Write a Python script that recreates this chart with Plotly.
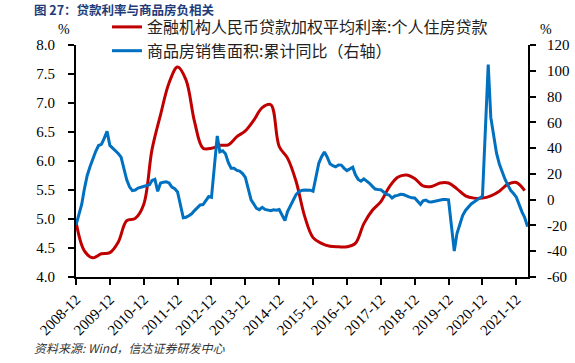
import plotly.graph_objects as go

# ---------------- data ----------------
# Quarterly: 金融机构人民币贷款加权平均利率:个人住房贷款 (%)
red_dates = ["2008-12-01"] + [f"{y}-{m:02d}-01" for y in range(2009, 2022) for m in (3, 6, 9, 12)] + ["2022-03-01"]
red_vals = [
    4.95,
    4.45, 4.33, 4.40, 4.42,
    4.60, 4.97, 5.01, 5.25,
    6.20, 6.80, 7.35, 7.62,
    7.40, 6.68, 6.22, 6.22,
    6.27, 6.28, 6.42, 6.52,
    6.70, 6.92, 6.97, 6.25,
    6.05, 5.65, 5.05, 4.68,
    4.58, 4.53, 4.52, 4.52,
    4.58, 4.92, 5.15, 5.30,
    5.55, 5.72, 5.76, 5.70,
    5.57, 5.56, 5.62, 5.62,
    5.52, 5.40, 5.36, 5.36,
    5.40, 5.48, 5.60, 5.63,
    5.49,
]

# Monthly (Feb-Dec each year): 商品房销售面积:累计同比 (%)
blue_start = [-19.7]  # 2008-12
blue_2009 = [-3.5, 8.2, 18.8, 25.5, 31.7, 37.3, 42.0, 42.9, 47.5, 53.0, 42.1]
blue_2010 = [38.2, 35.8, 33.0, 23.0, 15.4, 10.0, 7.0, 7.5, 9.0, 9.6, 10.1]
blue_2011 = [11.6, 14.9, 15.8, 6.5, 12.9, 13.5, 13.9, 12.9, 9.8, 8.5, 6.0]
blue_2012 = [-14.0, -13.6, -12.5, -11.0, -8.5, -6.7, -4.1, -3.8, -0.9, 2.4, 1.8]
blue_2013 = [49.5, 37.1, 38.0, 35.6, 28.7, 24.4, 24.3, 22.7, 22.2, 20.3, 17.3]
blue_2014 = [-0.1, -3.8, -6.8, -7.8, -6.0, -7.6, -8.3, -8.6, -7.8, -8.2, -7.6]
blue_2015 = [-16.3, -9.2, -4.8, -0.2, 3.9, 6.1, 7.2, 7.5, 7.2, 7.4, 6.5]
blue_2016 = [28.2, 33.1, 37.0, 33.2, 27.9, 26.4, 25.5, 26.9, 26.8, 24.3, 22.5]
blue_2017 = [25.1, 19.5, 15.7, 14.3, 16.1, 14.7, 12.7, 10.3, 8.2, 7.9, 7.7]
blue_2018 = [4.1, 3.6, 1.3, 2.9, 3.3, 4.2, 4.0, 2.9, 2.2, 1.4, 1.3]
blue_2019 = [-3.6, -0.9, -0.3, -1.6, -1.8, -1.3, -0.6, -0.1, 0.1, 0.2, -0.1]
blue_2020 = [-39.9, -26.3, -19.3, -12.3, -8.4, -5.8, -3.3, -1.8, 0.0, 1.3, 2.6]
blue_2021 = [104.9, 63.8, 48.1, 36.3, 27.7, 21.5, 15.9, 11.3, 7.3, 4.8, 1.9]
blue_2022 = [-9.6, -13.8, -20.9]

blue_years = [blue_2009, blue_2010, blue_2011, blue_2012, blue_2013, blue_2014, blue_2015,
              blue_2016, blue_2017, blue_2018, blue_2019, blue_2020, blue_2021]
blue_dates = ["2008-12-01"]
blue_vals = list(blue_start)
for i, vals in enumerate(blue_years):
    y = 2009 + i
    blue_dates += [f"{y}-{m:02d}-01" for m in range(2, 13)]
    blue_vals += vals
blue_dates += ["2022-02-01", "2022-03-01", "2022-04-01"]
blue_vals += blue_2022

left_ticks = [4.0, 4.5, 5.0, 5.5, 6.0, 6.5, 7.0, 7.5, 8.0]
right_ticks = [-60, -40, -20, 0, 20, 40, 60, 80, 100, 120]
right_ticktext = [str(v) for v in right_ticks]

red_name = "金融机构人民币贷款加权平均利率:个人住房贷款"
blue_name = "商品房销售面积:累计同比（右轴）"
title_text = "图 27：贷款利率与商品房负相关"
source_text = "资料来源: Wind，信达证券研发中心"

# ---------------- figure ----------------
RED = "#C00000"
BLUE = "#0070C0"
serif = "Liberation Serif"
cjk = "Noto Sans CJK SC"

PW, PH = 452, 232  # plot area size in px

fig = go.Figure()
fig.add_trace(go.Scatter(x=red_dates, y=red_vals, name=red_name, mode="lines",
                         line=dict(color=RED, width=3, shape="spline", smoothing=1.0),
                         yaxis="y"))
fig.add_trace(go.Scatter(x=blue_dates, y=blue_vals, name=blue_name, mode="lines",
                         line=dict(color=BLUE, width=3),
                         yaxis="y2"))

fig.update_layout(
    width=575, height=363,
    margin=dict(l=76, r=47, t=45, b=86, autoexpand=False),
    paper_bgcolor="white", plot_bgcolor="white",
    showlegend=True,
    legend=dict(x=(107 - 76) / PW, y=1 + 35 / PH, xanchor="left", yanchor="top",
                font=dict(family=cjk, size=16, color="#222"),
                bgcolor="rgba(0,0,0,0)", itemwidth=30, tracegroupgap=0,
                traceorder="normal"),
    xaxis=dict(type="date", range=["2008-12-01", "2022-04-06"],
               tick0="2008-12-01", dtick="M12", tickformat="%Y-%m",
               tickangle=-45, ticks="outside", ticklen=6, tickwidth=1.5, tickcolor="black",
               showline=True, linecolor="black", linewidth=2, showgrid=False, zeroline=False,
               tickfont=dict(family=serif, size=15, color="black")),
    yaxis=dict(range=[4.0, 8.0], tickvals=left_ticks, tickformat=".1f",
               ticks="outside", ticklen=6, tickwidth=1.5, tickcolor="black",
               showline=True, linecolor="black", linewidth=2, showgrid=False, zeroline=False,
               ticklabelstandoff=10,
               tickfont=dict(family=serif, size=15, color="black")),
    yaxis2=dict(range=[-60, 120], tickvals=right_ticks, ticktext=right_ticktext,
                overlaying="y", side="right", anchor="x",
                ticks="outside", ticklen=6, tickwidth=1.5, tickcolor="black",
                showline=True, linecolor="black", linewidth=2, showgrid=False, zeroline=False,
                ticklabelstandoff=8,
                tickfont=dict(family=serif, size=15, color="black")),
)

fig.add_annotation(text=f"<b>{title_text}</b>", xref="paper", yref="paper",
                   x=-44 / PW, y=1 + 36 / PH, xanchor="left", yanchor="middle",
                   showarrow=False, font=dict(family=cjk, size=12.5, color="#1F3C78"))
fig.add_annotation(text="%", xref="paper", yref="paper",
                   x=-12 / PW, y=1 + 15 / PH, xanchor="center", yanchor="middle",
                   showarrow=False, font=dict(family=serif, size=14, color="black"))
fig.add_annotation(text="%", xref="paper", yref="paper",
                   x=1 + 18 / PW, y=1 + 15 / PH, xanchor="center", yanchor="middle",
                   showarrow=False, font=dict(family=serif, size=14, color="black"))
fig.add_annotation(text=f"<i>{source_text}</i>", xref="paper", yref="paper",
                   x=-44 / PW, y=-(347 - 277) / PH, xanchor="left", yanchor="middle",
                   showarrow=False, font=dict(family=cjk, size=12, color="#333"))

# remove the browser's default page margin so the figure sits at the top-left corner
fig.write_html("out.html", config={"displayModeBar": False},
               post_script="document.body.style.margin='0px';")
